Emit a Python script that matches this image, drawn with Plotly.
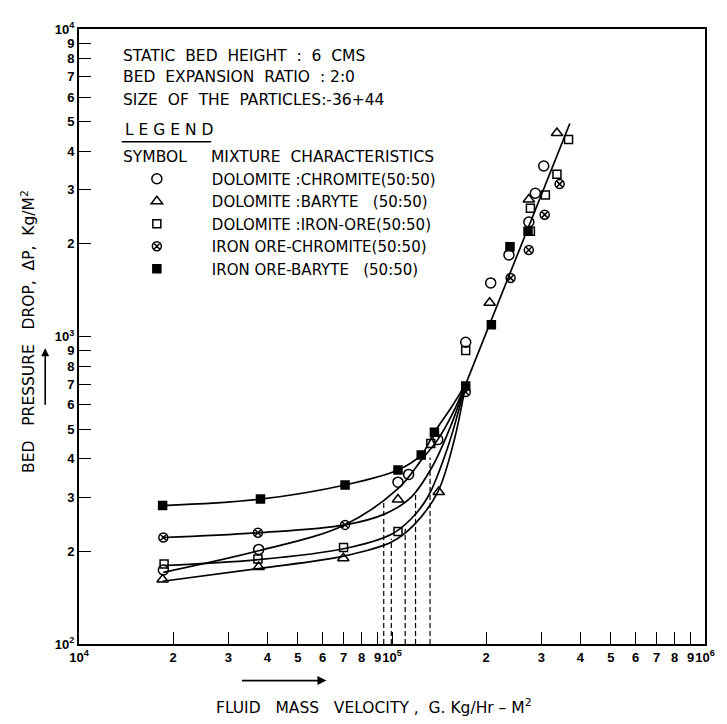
import plotly.graph_objects as go

# ---------------- data ----------------
# Measured points: fluid mass velocity (G, kg/hr-m2) vs bed pressure drop (kg/m2)
circle_x = [18600, 37500, 104500, 113000, 140000, 172000, 206700, 236400, 273600, 287000, 305300]
circle_y = [174, 203, 336, 356, 462, 958, 1494, 1842, 2357, 2922, 3586]

triangle_x = [18500, 37500, 69900, 104500, 141000, 205100, 273600, 336500]
triangle_y = [162, 178, 190, 295, 312, 1288, 2788, 4589]

square_x = [18700, 37300, 70000, 104500, 133000, 172000, 276800, 276800, 309000, 336500, 366500]
square_y = [182, 189, 206, 232, 449, 900, 2199, 2615, 2886, 3373, 4370]

otimes_x = [18600, 37300, 70800, 172000, 239300, 273600, 307400, 343200]
otimes_y = [222, 230, 244, 660, 1550, 1911, 2489, 3132]

filled_x = [18500, 38000, 70800, 104500, 124000, 136600, 172000, 207700, 238200, 272000]
filled_y = [282, 296, 329, 368, 412, 488, 690, 1091, 1959, 2200]

# Fitted curves (low-velocity part) for each mixture
curve_circle_x = [18600, 37500, 70000, 104500, 125000, 140000, 156000, 172000]
curve_circle_y = [171, 201, 243, 320, 400, 462, 560, 700]
curve_triangle_x = [18500, 37500, 70000, 100000, 118000, 140000, 158000, 172000]
curve_triangle_y = [160, 176, 193, 215, 245, 312, 460, 700]
curve_square_x = [18700, 37300, 70000, 100000, 115000, 130000, 150000, 172000]
curve_square_y = [180, 188, 204, 228, 255, 300, 430, 700]
curve_otimes_x = [18600, 37300, 70800, 95000, 115000, 135000, 155000, 172000]
curve_otimes_y = [222, 230, 244, 265, 300, 380, 520, 700]
curve_filled_x = [18500, 38000, 70800, 104500, 124000, 136600, 155000, 172000]
curve_filled_y = [282, 296, 329, 368, 412, 488, 590, 700]

# Common straight line of the fluidized region
main_x = [172000, 370000]
main_y = [700, 4930]

# Minimum fluidization velocities (dashed verticals) and where they meet the curves
mf_x = [94100, 99500, 110200, 118900, 132300]
mf_top = [293, 220, 237, 305, 404]

x_tickvals = [1e4, 2e4, 3e4, 4e4, 5e4, 6e4, 7e4, 8e4, 9e4, 1e5,
              2e5, 3e5, 4e5, 5e5, 6e5, 7e5, 8e5, 9e5, 1e6]
x_ticktext = ["10<sup>4</sup>", "2", "3", "4", "5", "6", "7", "8", "9", "10<sup>5</sup>",
              "2", "3", "4", "5", "6", "7", "8", "9", "10<sup>6</sup>"]
y_tickvals = [100, 200, 300, 400, 500, 600, 700, 800, 900, 1000,
              2000, 3000, 4000, 5000, 6000, 7000, 8000, 9000, 10000]
y_ticktext = ["10<sup>2</sup>", "2", "3", "4", "5", "6", "7", "8", "9", "10<sup>3</sup>",
              "2", "3", "4", "5", "6", "7", "8", "9", "10<sup>4</sup>"]

legend_names = ["DOLOMITE :CHROMITE(50:50)", "DOLOMITE :BARYTE   (50:50)",
                "DOLOMITE :IRON-ORE(50:50)", "IRON ORE-CHROMITE(50:50)",
                "IRON ORE-BARYTE   (50:50)"]

FONT = "DejaVu Sans"
TICKFONT = "Liberation Sans"
INK = "black"

fig = go.Figure()

line_style = dict(color=INK, width=1.7)
for cx, cy in [(curve_circle_x, curve_circle_y), (curve_triangle_x, curve_triangle_y),
               (curve_square_x, curve_square_y), (curve_otimes_x, curve_otimes_y),
               (curve_filled_x, curve_filled_y)]:
    fig.add_trace(go.Scatter(x=cx, y=cy, mode="lines", line=dict(shape="spline", smoothing=1.0, **line_style),
                             showlegend=False, hoverinfo="skip"))
fig.add_trace(go.Scatter(x=main_x, y=main_y, mode="lines", line=line_style, showlegend=False, hoverinfo="skip"))

for xv, yt in zip(mf_x, mf_top):
    fig.add_trace(go.Scatter(x=[xv, xv], y=[100, yt], mode="lines",
                             line=dict(color=INK, width=1.2, dash="5px,3px"),
                             showlegend=False, hoverinfo="skip"))

series = [
    (circle_x, circle_y, "circle-open", 10, legend_names[0]),
    (triangle_x, triangle_y, "triangle-up-open", 10, legend_names[1]),
    (square_x, square_y, "square-open", 8, legend_names[2]),
    (otimes_x, otimes_y, "circle-x-open", 9, legend_names[3]),
    (filled_x, filled_y, "square", 8, legend_names[4]),
]
for sx, sy, sym, sz, nm in series:
    fig.add_trace(go.Scatter(x=sx, y=sy, mode="markers", name=nm,
                             marker=dict(symbol=sym, size=sz, color=INK,
                                         line=dict(color=INK, width=1.5))))

axis_common = dict(type="log", showline=True, linecolor=INK, linewidth=2, mirror=True,
                   showgrid=False, zeroline=False, ticks="inside", ticklen=12, tickwidth=1.2,
                   tickcolor=INK, tickmode="array", tickangle=0, ticklabeloverflow="allow",
                   tickfont=dict(family=TICKFONT, size=13, color=INK, weight="bold"))

fig.update_xaxes(range=[4, 6], tickvals=x_tickvals, ticktext=x_ticktext, **axis_common)
fig.update_yaxes(range=[2, 4], tickvals=y_tickvals, ticktext=y_ticktext, **axis_common)

# page pixel -> paper fraction (plot area spans x 79..709, y 22..644 on the page)
def px_x(px):
    return (px - 79) / 630.0

def px_y(py):
    return (644 - py) / 622.0

# long major tick at 10^3
fig.add_shape(type="line", xref="paper", yref="y", x0=0, x1=0.04, y0=3, y1=3,
              line=dict(color=INK, width=1.5))
# underline of the LEGEND heading
fig.add_shape(type="line", xref="paper", yref="paper", x0=px_x(122), x1=px_x(212),
              y0=px_y(136), y1=px_y(136), line=dict(color=INK, width=1.5))

txt = dict(family=FONT, size=15.5, color=INK)
annots = [
    dict(text="STATIC  BED  HEIGHT  :  6  CMS", x=px_x(121), y=px_y(49)),
    dict(text="BED  EXPANSION  RATIO  : 2:0", x=px_x(121), y=px_y(71)),
    dict(text="SIZE  OF  THE  PARTICLES:-36+44", x=px_x(121), y=px_y(94)),
    dict(text="L E G E N D", x=px_x(123), y=px_y(124)),
    dict(text="SYMBOL", x=px_x(121), y=px_y(151)),
    dict(text="MIXTURE  CHARACTERISTICS", x=px_x(210), y=px_y(151)),
]
for a in annots:
    fig.add_annotation(xref="paper", yref="paper", xanchor="left", yanchor="middle",
                       showarrow=False, font=txt, **a)

fig.add_annotation(text="BED   PRESSURE   DROP,  \u0394P,  Kg/M<sup>2</sup>", textangle=-90,
                   xref="paper", yref="paper", x=px_x(28), y=px_y(328),
                   xanchor="center", yanchor="middle", showarrow=False,
                   font=dict(family=FONT, size=15.5, color=INK))
fig.add_annotation(text="FLUID   MASS   VELOCITY ,  G. Kg/Hr \u2013 M<sup>2</sup>",
                   xref="paper", yref="paper", x=px_x(376), y=px_y(707),
                   xanchor="center", yanchor="middle", showarrow=False,
                   font=dict(family=FONT, size=15.5, color=INK))
# direction arrows
fig.add_annotation(text="", xref="paper", yref="paper", x=px_x(45), y=px_y(345),
                   ax=0, ay=58, showarrow=True, arrowhead=2, arrowsize=1, arrowwidth=1.6,
                   arrowcolor=INK)
fig.add_annotation(text="", xref="paper", yref="paper", x=px_x(328), y=px_y(681),
                   ax=-86, ay=0, showarrow=True, arrowhead=2, arrowsize=1, arrowwidth=1.8,
                   arrowcolor=INK)

# The page body has an 8px margin, so the figure is sized to fit inside the window.
fig.update_layout(
    width=719, height=708,
    margin=dict(l=71, r=18, t=14, b=72),
    paper_bgcolor="white", plot_bgcolor="white",
    showlegend=True,
    legend=dict(x=px_x(102), y=px_y(157), xanchor="left", yanchor="top",
                bgcolor="rgba(0,0,0,0)", borderwidth=0, itemwidth=100,
                font=dict(family=FONT, size=15, color=INK), tracegroupgap=0),
    font=dict(family=FONT, color=INK),
)

fig.write_html("out.html")
